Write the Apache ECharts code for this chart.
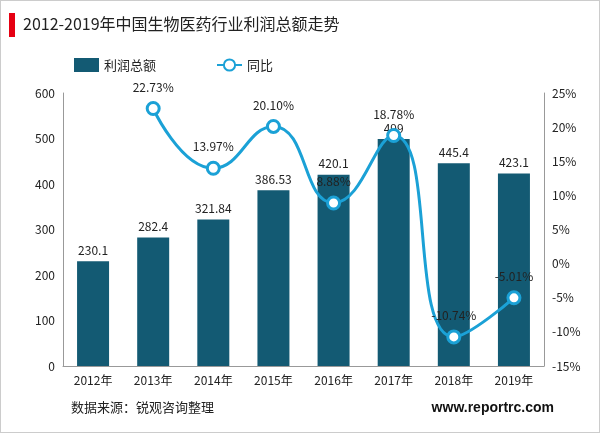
<!DOCTYPE html>
<html>
<head>
<meta charset="utf-8">
<script src="https://cdn.jsdelivr.net/npm/echarts@6/dist/echarts.min.js"></script>
<style>
body{margin:0;background:#fff;}
#wrap{position:relative;width:598px;height:431px;border:1px solid #ccc;}
#chart{width:598px;height:431px;}
</style>
</head>
<body>
<div id="wrap"><div id="chart"></div></div>
<script>
// 연도, 이익총액, 전년대비
let years = ['2012年', '2013年', '2014年', '2015年', '2016年', '2017年', '2018年', '2019年'];
let profit = [230.1, 282.4, 321.84, 386.53, 420.1, 499, 445.4, 423.1];
let growth = [null, 22.73, 13.97, 20.10, 8.88, 18.78, -10.74, -5.01];

let myChart = echarts.init(document.getElementById('chart'));
let font = 'Microsoft YaHei, "Noto Sans CJK SC", sans-serif';

let option = {
	textStyle: {fontFamily: font},
	graphic: [
		{type: 'rect', left: 8, top: 12, shape: {width: 6, height: 24}, style: {fill: '#e60012'}},
		{type: 'text', left: 22, top: 15, style: {text: '2012-2019年中国生物医药行业利润总额走势', fontSize: 16, fill: '#222', fontFamily: font}},
		{type: 'text', left: 70, top: 400, style: {text: '数据来源：锐观咨询整理', fontSize: 13, fill: '#222', fontFamily: font}},
		{type: 'text', right: 45, top: 400, style: {text: 'www.reportrc.com', fontSize: 14, fontWeight: 'bold', fill: '#111', fontFamily: 'Arial, sans-serif'}}
	],
	legend: {
		top: 52, left: 68, itemGap: 60,
		textStyle: {fontSize: 13, color: '#222'},
		data: [{name: '利润总额', icon: 'rect'}, {name: '同比'}]
	},
	grid: {left: 62, right: 55, top: 92, bottom: 66},
	xAxis: {
		type: 'category', data: years,
		axisLine: {lineStyle: {color: '#999'}}, axisTick: {show: false},
		axisLabel: {color: '#222', fontSize: 12}
	},
	yAxis: [
		{type: 'value', min: 0, max: 600, interval: 100,
			axisLine: {show: true, lineStyle: {color: '#999'}},
			axisLabel: {color: '#222', fontSize: 12}, splitLine: {show: false}},
		{type: 'value', min: -15, max: 25, interval: 5,
			axisLine: {show: true, lineStyle: {color: '#999'}},
			axisLabel: {color: '#222', fontSize: 12, formatter: '{value}%'}, splitLine: {show: false}}
	],
	series: [
		{name: '利润总额', type: 'bar', data: profit, barWidth: 32,
			itemStyle: {color: '#135a73'},
			label: {show: true, position: 'top', color: '#222', fontSize: 12}},
		{name: '同比', type: 'line', yAxisIndex: 1, data: growth, smooth: true,
			symbol: 'circle', symbolSize: 12,
			lineStyle: {color: '#1ba1d6', width: 3},
			itemStyle: {color: '#fff', borderColor: '#1ba1d6', borderWidth: 3},
			label: {show: true, position: 'top', distance: 8, color: '#222', fontSize: 12,
				formatter: p => p.value.toFixed(2) + '%'}}
	]
};
myChart.setOption(option);
</script>
</body>
</html>
